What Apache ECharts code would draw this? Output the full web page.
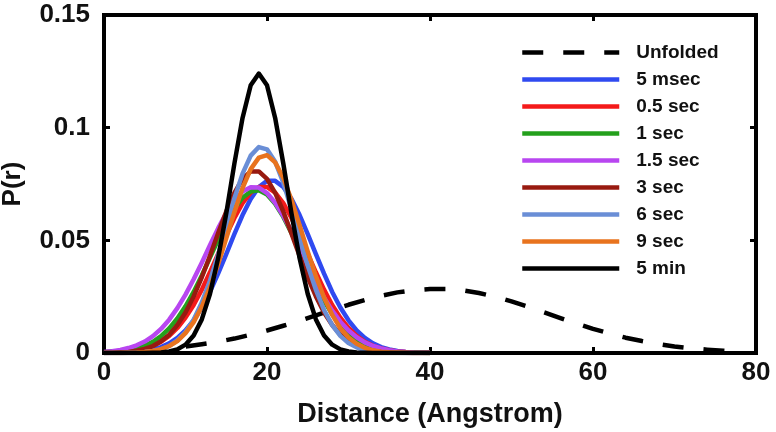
<!DOCTYPE html>
<html>
<head>
<meta charset="utf-8">
<script src="https://cdn.jsdelivr.net/npm/echarts@6/dist/echarts.min.js"></script>
<style>
html,body{margin:0;padding:0;background:#fff;}
#chart{width:776px;height:432px;}
</style>
</head>
<body>
<div id="chart"></div>
<script>
// Distance grid (Angstrom)
const r = [0,1,2,3,4,5,6,7,8,9,10,11,12,13,14,15,16,17,18,19,20,21,22,23,24,25,26,27,28,29,30,31,32,33,34,35,36,37,38,39,40];
const rUnfolded = [0,2,4,6,8,10,12,14,16,18,20,22,24,26,28,30,32,34,36,38,40,42,44,46,48,50,52,54,56,58,60,62,64,66,68,70,72,74,76,78];

const unfolded = [0.0005,0.0008,0.0011,0.0015,0.0021,0.0029,0.0039,0.0050,0.0064,0.0081,0.0100,0.0121,0.0143,0.0167,0.0191,0.0214,0.0235,0.0254,0.0269,0.0279,0.0284,0.0284,0.0278,0.0266,0.0250,0.0229,0.0206,0.0180,0.0155,0.0131,0.0107,0.0087,0.0068,0.0053,0.0040,0.0029,0.0021,0.0015,0.0010,0.0007];

const ms5 = [0.0000,0.0001,0.0001,0.0003,0.0005,0.0009,0.0016,0.0026,0.0043,0.0067,0.0100,0.0145,0.0202,0.0271,0.0352,0.0439,0.0528,0.0612,0.0684,0.0737,0.0764,0.0764,0.0737,0.0684,0.0612,0.0528,0.0439,0.0352,0.0271,0.0202,0.0145,0.0100,0.0067,0.0043,0.0026,0.0016,0.0009,0.0005,0.0003,0.0001,0.0001];

const s05 = [0.0001,0.0002,0.0004,0.0007,0.0012,0.0020,0.0032,0.0050,0.0076,0.0111,0.0157,0.0213,0.0281,0.0358,0.0440,0.0522,0.0599,0.0665,0.0712,0.0737,0.0737,0.0712,0.0665,0.0599,0.0522,0.0440,0.0358,0.0281,0.0213,0.0157,0.0111,0.0076,0.0050,0.0032,0.0020,0.0012,0.0007,0.0004,0.0002,0.0001,0.0001];

const s1 = [0.0002,0.0004,0.0007,0.0012,0.0020,0.0032,0.0050,0.0075,0.0109,0.0153,0.0207,0.0271,0.0344,0.0423,0.0502,0.0577,0.0641,0.0689,0.0717,0.0722,0.0703,0.0662,0.0604,0.0533,0.0454,0.0375,0.0300,0.0232,0.0173,0.0125,0.0088,0.0059,0.0039,0.0025,0.0015,0.0009,0.0005,0.0003,0.0002,0.0001,0.0000];

const s15 = [0.0005,0.0008,0.0014,0.0022,0.0034,0.0051,0.0075,0.0107,0.0148,0.0199,0.0259,0.0327,0.0401,0.0478,0.0553,0.0621,0.0677,0.0717,0.0736,0.0734,0.0710,0.0667,0.0609,0.0539,0.0463,0.0386,0.0313,0.0246,0.0188,0.0139,0.0100,0.0070,0.0047,0.0031,0.0020,0.0012,0.0007,0.0004,0.0002,0.0001,0.0001];

const s3 = [0.0001,0.0001,0.0003,0.0005,0.0010,0.0018,0.0031,0.0052,0.0081,0.0124,0.0180,0.0251,0.0336,0.0431,0.0531,0.0628,0.0711,0.0773,0.0806,0.0806,0.0773,0.0711,0.0628,0.0531,0.0431,0.0336,0.0251,0.0180,0.0124,0.0081,0.0052,0.0031,0.0018,0.0010,0.0005,0.0003,0.0001,0.0001,0.0000,0.0000,0.0000];

const s6 = [0.0000,0.0000,0.0000,0.0001,0.0002,0.0004,0.0009,0.0017,0.0031,0.0056,0.0093,0.0148,0.0224,0.0321,0.0436,0.0562,0.0687,0.0796,0.0876,0.0914,0.0904,0.0849,0.0756,0.0638,0.0511,0.0388,0.0280,0.0191,0.0124,0.0076,0.0044,0.0025,0.0013,0.0006,0.0003,0.0001,0.0001,0.0000,0.0000,0.0000,0.0000];

const s9 = [0.0000,0.0000,0.0000,0.0001,0.0002,0.0004,0.0009,0.0017,0.0031,0.0053,0.0088,0.0137,0.0205,0.0291,0.0394,0.0509,0.0625,0.0732,0.0816,0.0867,0.0878,0.0846,0.0777,0.0680,0.0567,0.0450,0.0341,0.0246,0.0169,0.0110,0.0069,0.0041,0.0023,0.0012,0.0006,0.0003,0.0002,0.0001,0.0000,0.0000,0.0000];

const min5 = [0,0,0,0,0,0,0.0001,0.0002,0.0007,0.0016,0.0037,0.0078,0.0149,0.0262,0.0420,0.0620,0.0841,0.1043,0.1188,0.1240,0.1188,0.1043,0.0841,0.0620,0.0420,0.0262,0.0149,0.0078,0.0037,0.0016,0.0007,0.0002,0.0001,0,0,0,0,0,0,0,0];

const xTicks = [0,20,40,60,80];
const yTicks = [0,0.05,0.1,0.15];

const names = ['Unfolded','5 msec','0.5 sec','1 sec','1.5 sec','3 sec','6 sec','9 sec','5 min'];
const colors = ['#000000','#2F4AF0','#F41A1A','#24A01C','#B846F0','#981A10','#6A8ED6','#E8731E','#000000'];
const values = [unfolded, ms5, s05, s1, s15, s3, s6, s9, min5];

const FONT = '"Liberation Sans", Arial, Helvetica, sans-serif';

const series = values.map((vals, i) => {
  const xs = i === 0 ? rUnfolded : r;
  return {
    name: names[i],
    type: 'line',
    xAxisIndex: 0,
    yAxisIndex: 0,
    data: vals.map((v, k) => [xs[k], v]),
    showSymbol: false,
    symbol: 'none',
    smooth: false,
    z: 2 + i,
    lineStyle: {
      color: colors[i],
      width: 4.5,
      type: i === 0 ? [21, 20] : 'solid',
      cap: 'butt',
      join: 'round'
    },
    itemStyle: { color: colors[i] },
    animation: false
  };
});

const chart = echarts.init(document.getElementById('chart'), null, { renderer: 'canvas' });

const axisCommon = {
  axisLine: { show: true, onZero: false, lineStyle: { color: '#000', width: 4, cap: 'square' } },
  axisTick: { show: true, inside: true, length: 6, lineStyle: { color: '#000', width: 3 } },
  splitLine: { show: false }
};

chart.setOption({
  animation: false,
  backgroundColor: '#fff',
  grid: { left: 104, right: 20, top: 15, bottom: 79, containLabel: false, outerBoundsMode: 'none' },
  legend: {
    orient: 'vertical',
    left: 520,
    top: 43,
    padding: 0,
    itemWidth: 97,
    itemHeight: 14,
    itemGap: 8,
    data: names,
    lineStyle: { width: 4.5 },
    itemStyle: { opacity: 0 },
    textStyle: { fontFamily: FONT, fontWeight: 'bold', fontSize: 19, color: '#111', padding: [0, 0, 0, 12] },
    selectedMode: false
  },
  xAxis: [
    Object.assign({}, axisCommon, {
      type: 'value', position: 'bottom', min: 0, max: 80, interval: 20,
      name: 'Distance (Angstrom)', nameLocation: 'middle', nameGap: 48,
      nameTextStyle: { fontFamily: FONT, fontWeight: 'bold', fontSize: 27, color: '#111' },
      axisLabel: { margin: 7, fontFamily: FONT, fontWeight: 'bold', fontSize: 26, color: '#111' }
    }),
    Object.assign({}, axisCommon, {
      type: 'value', position: 'top', min: 0, max: 80, interval: 20,
      axisLabel: { show: false }
    })
  ],
  yAxis: [
    Object.assign({}, axisCommon, {
      type: 'value', position: 'left', min: 0, max: 0.15, interval: 0.05,
      name: 'P(r)', nameLocation: 'middle', nameGap: 78, nameRotate: 90,
      nameTextStyle: { fontFamily: FONT, fontWeight: 'bold', fontSize: 26, color: '#111' },
      axisLabel: { margin: 14, fontFamily: FONT, fontWeight: 'bold', fontSize: 26, color: '#111',
        formatter: v => String(+v.toFixed(2)) }
    }),
    Object.assign({}, axisCommon, {
      type: 'value', position: 'right', min: 0, max: 0.15, interval: 0.05,
      axisLabel: { show: false }
    })
  ],
  series: series
});
</script>
</body>
</html>
